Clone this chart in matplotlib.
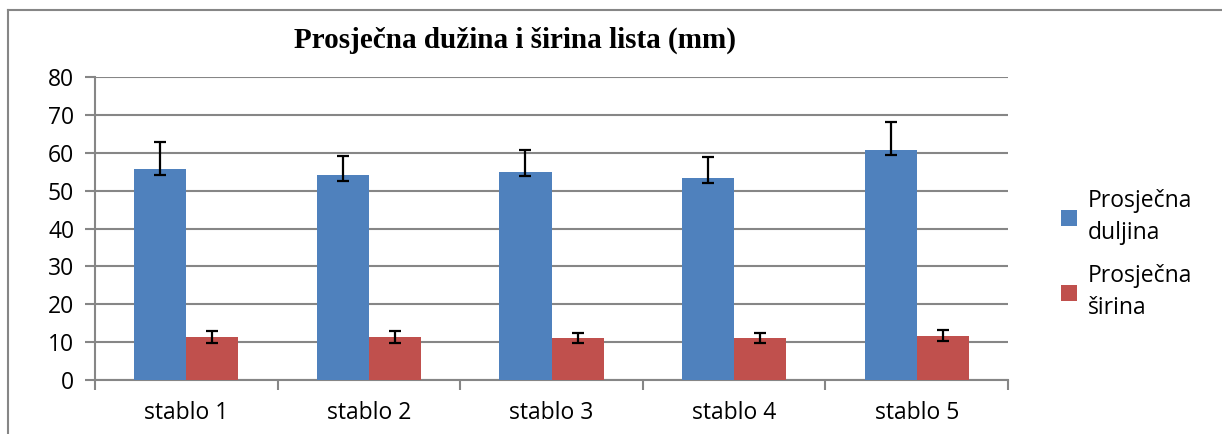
import matplotlib.pyplot as plt
import numpy as np
from matplotlib.lines import Line2D

# data
categories = ["stablo 1", "stablo 2", "stablo 3", "stablo 4", "stablo 5"]
duljina = [55.7, 54.0, 54.9, 53.4, 60.7]
duljina_err_low = [1.5, 1.5, 1.1, 1.3, 1.2]
duljina_err_high = [7.2, 5.2, 5.9, 5.4, 7.3]
sirina = [11.3, 11.3, 11.0, 11.0, 11.7]
sirina_err_low = [1.6, 1.5, 1.1, 1.3, 1.3]
sirina_err_high = [1.7, 1.7, 1.3, 1.5, 1.4]
series_labels = ["Prosječna\nduljina", "Prosječna\nširina"]
title = "Prosječna dužina i širina lista (mm)"

blue = "#4F81BD"
red = "#C0504D"
grid_c = "#868686"

fig = plt.figure(figsize=(12.22, 4.34), dpi=100)
ax = fig.add_axes([95 / 1222, 1 - 380 / 434, (1008 - 95) / 1222, (380 - 77) / 434])

x = np.arange(len(categories))
w = 0.285
err_kw = dict(ecolor="black", elinewidth=1.6, capsize=4.5, capthick=1.6)
ax.bar(x - w / 2, duljina, w, color=blue, label=series_labels[0],
       yerr=[duljina_err_low, duljina_err_high], error_kw=err_kw, zorder=3)
ax.bar(x + w / 2, sirina, w, color=red, label=series_labels[1],
       yerr=[sirina_err_low, sirina_err_high], error_kw=err_kw, zorder=3)

ax.set_xlim(-0.5, len(categories) - 0.5)
ax.set_ylim(0, 80)
ax.set_yticks(range(0, 81, 10))
ax.yaxis.grid(True, color=grid_c, linewidth=1.5, zorder=0)
ax.set_axisbelow(True)

ax.set_xticks(x)
ax.set_xticklabels(categories)
ax.set_xticks(np.arange(-0.5, len(categories), 1), minor=True)
ax.tick_params(axis="x", which="major", length=0, pad=15, labelsize=16.5)
ax.tick_params(axis="x", which="minor", length=7, width=1.5, color=grid_c)
ax.tick_params(axis="y", length=7, width=1.5, color=grid_c, labelsize=16.5, pad=8)
for lab in ax.get_xticklabels() + ax.get_yticklabels():
    lab.set_fontfamily("Open Sans")

for s in ["top", "right"]:
    ax.spines[s].set_visible(False)
for s in ["left", "bottom"]:
    ax.spines[s].set_color(grid_c)
    ax.spines[s].set_linewidth(1.5)

fig.text(515 / 1222, 1 - 40 / 434, title, ha="center", va="center",
         fontsize=21, fontweight="bold", family="Liberation Serif")

leg = fig.legend(loc="upper left", bbox_to_anchor=(1040 / 1222, 1 - 168 / 434),
                 frameon=False, prop={"family": "Open Sans", "size": 16.5},
                 handlelength=0.7, handleheight=0.7, handletextpad=0.5,
                 labelspacing=0.85)
for t in leg.get_texts():
    t.set_linespacing(1.45)

# outer chart frame (top and left edges visible)
fig.add_artist(Line2D([8 / 1222, 8 / 1222], [0, 1 - 10 / 434], color=grid_c,
                      linewidth=1.5, transform=fig.transFigure))
fig.add_artist(Line2D([8 / 1222, 1], [1 - 10 / 434, 1 - 10 / 434], color=grid_c,
                      linewidth=1.5, transform=fig.transFigure))

fig.savefig("out.png", dpi=100)
